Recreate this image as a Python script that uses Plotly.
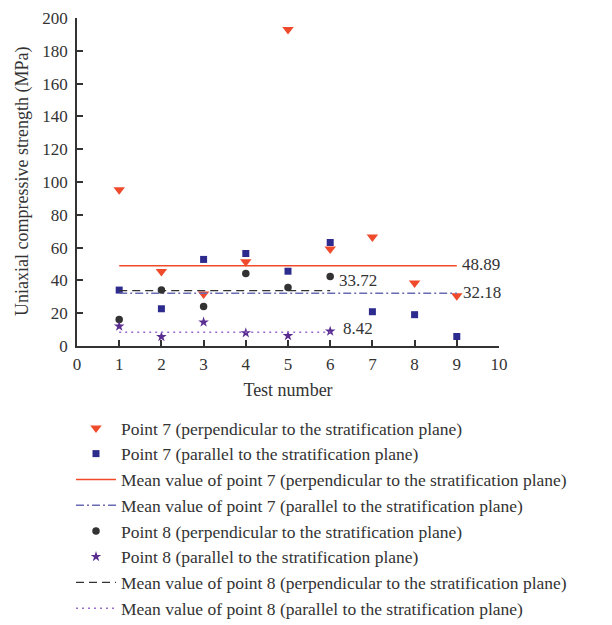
import plotly.graph_objects as go

tests7 = [1, 2, 3, 4, 5, 6, 7, 8, 9]
tests8 = [1, 2, 3, 4, 5, 6]
p7_perp = [95.2, 45.4, 31.7, 51.4, 193.0, 59.2, 66.4, 38.4, 30.7]
p7_para = [34.1, 22.7, 52.8, 56.4, 45.6, 63.1, 20.9, 19.1, 5.8]
p8_perp = [16.1, 34.1, 24.1, 44.2, 35.7, 42.4]
p8_para = [12.0, 5.6, 14.5, 8.0, 6.2, 9.0]
means = [48.89, 32.18, 33.72, 8.42]
mean_x = [[1, 9], [1, 9], [1, 6], [1, 6]]
mean_labels = ["48.89", "32.18", "33.72", "8.42"]
label_pos = [(9.08, 49.4), (9.1, 32.4), (6.15, 39.8), (6.25, 10.8)]
y_title = "Uniaxial compressive strength (MPa)"
x_title = "Test number"

FONT = "Liberation Serif"
fig = go.Figure()

def add_marker(x, y, name, symbol, color, size):
    fig.add_trace(go.Scatter(x=x, y=y, mode="markers", name=name,
                             marker=dict(symbol=symbol, color=color, size=size, line=dict(width=0))))

def add_line(i, name, color, dash, width):
    fig.add_trace(go.Scatter(x=mean_x[i], y=[means[i]] * 2, mode="lines", name=name,
                             line=dict(color=color, dash=dash, width=width)))

add_marker(tests7, p7_perp, "Point 7 (perpendicular to the stratification plane)", "triangle-down", "#ef4a2c", 10)
add_marker(tests7, p7_para, "Point 7 (parallel to the stratification plane)", "square", "#2e2b8f", 7)
add_line(0, "Mean value of point 7 (perpendicular to the stratification plane)", "#f04a2a", "solid", 1.5)
add_line(1, "Mean value of point 7 (parallel to the stratification plane)", "#6b6bb5", "8px,3px,2px,3px", 1.5)
add_marker(tests8, p8_perp, "Point 8 (perpendicular to the stratification plane)", "circle", "#333333", 7.5)
add_marker(tests8, p8_para, "Point 8 (parallel to the stratification plane)", "star", "#5a2d91", 8)
add_line(2, "Mean value of point 8 (perpendicular to the stratification plane)", "#333333", "8px,5px", 1.3)
add_line(3, "Mean value of point 8 (parallel to the stratification plane)", "#9b6fd0", "2px,4px", 1.5)

for lab, (lx, ly) in zip(mean_labels, label_pos):
    fig.add_annotation(x=lx, y=ly, text=lab, showarrow=False, xanchor="left", yanchor="middle",
                       font=dict(family=FONT, size=17, color="#333333"))

# y-axis title placed beside the axis
fig.add_annotation(xref="paper", yref="paper", x=0, y=0.5, xshift=-55, text=y_title,
                   textangle=-90, showarrow=False, xanchor="center", yanchor="middle",
                   font=dict(family=FONT, size=18, color="#333333"))

axis_common = dict(showline=True, linecolor="#333333", linewidth=1.5, ticks="inside", ticklen=6,
                   tickwidth=1.5, tickcolor="#333333", showgrid=False, zeroline=False,
                   ticklabeloverflow="allow",
                   tickfont=dict(family=FONT, size=17, color="#333333"),
                   title_font=dict(family=FONT, size=18, color="#333333"))

fig.update_xaxes(range=[0, 10], tickmode="linear", tick0=0, dtick=1, title_text=x_title,
                 title_standoff=10, ticklabelstandoff=2, **axis_common)
fig.update_yaxes(range=[0, 200], tickmode="linear", tick0=0, dtick=20,
                 ticklabelstandoff=4, **axis_common)

fig.update_layout(
    width=612, height=625, margin=dict(l=69, r=121, t=10, b=287, autoexpand=False),
    plot_bgcolor="white", paper_bgcolor="white",
    font=dict(family=FONT, size=17, color="#333333"),
    showlegend=True,
    legend=dict(xref="container", yref="container", x=63 / 612, y=1 - 402 / 625,
                xanchor="left", yanchor="top", itemwidth=40,
                font=dict(family=FONT, size=17.5, color="#333333"),
                bgcolor="rgba(0,0,0,0)"),
)

fig.write_html("out.html")
